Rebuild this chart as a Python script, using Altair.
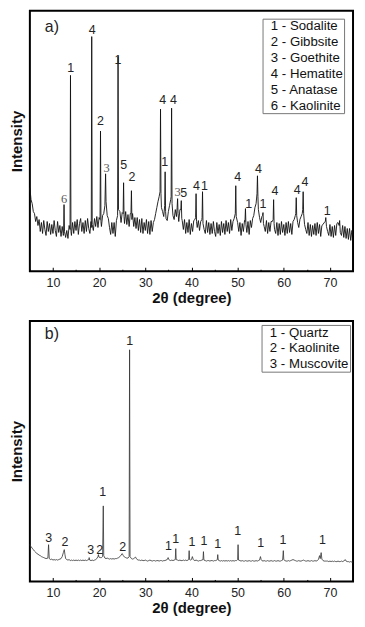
import altair as alt
import pandas as pd

FONT = "Liberation Sans"

# ---------------- shared axis ticks ----------------
major_ticks = [10, 20, 30, 40, 50, 60, 70]
minor_ticks = [5, 15, 25, 35, 45, 55, 65, 75]

# ---------------- panel a) : XRD of red mud ----------------
a_two_theta = [
    5.0, 5.25, 5.5, 5.75,
    6.0, 6.25, 6.5, 6.75,
    7.0, 7.25, 7.5, 7.75,
    8.0, 8.25, 8.5, 8.75,
    9.0, 9.25, 9.5, 9.75,
    10.0, 10.25, 10.5, 10.75,
    11.0, 11.25, 11.5, 11.75,
    12.0, 12.25, 12.3, 12.4, 12.5, 12.75,
    13.0, 13.25, 13.5, 13.7, 13.8, 13.9,
    14.0, 14.25, 14.5, 14.75,
    15.0, 15.25, 15.5, 15.75,
    16.0, 16.25, 16.5, 16.75,
    17.0, 17.25, 17.5, 17.75,
    18.0, 18.25, 18.3, 18.4, 18.5, 18.75,
    19.0, 19.25, 19.5, 19.75,
    20.0, 20.2, 20.3, 20.4, 20.5, 20.75,
    21.0, 21.25, 21.4, 21.5, 21.75,
    22.0, 22.25, 22.5, 22.75,
    23.0, 23.25, 23.5, 23.75,
    24.0, 24.1, 24.2, 24.5, 24.75,
    25.0, 25.2, 25.3, 25.4, 25.5, 25.75,
    26.0, 26.25, 26.5, 26.75, 26.9,
    27.0, 27.1, 27.25, 27.5, 27.75,
    28.0, 28.25, 28.5, 28.75,
    29.0, 29.25, 29.5, 29.75,
    30.0, 30.25, 30.5, 30.75,
    31.0, 31.25, 31.5, 31.75,
    32.0, 32.25, 32.5, 32.75,
    33.0, 33.2, 33.3, 33.4, 33.5, 33.75,
    34.0, 34.2, 34.3, 34.4, 34.5, 34.75,
    35.0, 35.25, 35.5, 35.6, 35.7, 35.8,
    36.0, 36.25, 36.5, 36.75, 36.9,
    37.0, 37.1, 37.25, 37.5, 37.7, 37.8, 37.9,
    38.0, 38.25, 38.5, 38.75,
    39.0, 39.25, 39.5, 39.75,
    40.0, 40.25, 40.5, 40.75, 40.9,
    41.0, 41.1, 41.25, 41.5, 41.75,
    42.0, 42.25, 42.3, 42.4, 42.5, 42.75,
    43.0, 43.25, 43.5, 43.75,
    44.0, 44.25, 44.5, 44.75,
    45.0, 45.25, 45.5, 45.75,
    46.0, 46.25, 46.5, 46.75,
    47.0, 47.25, 47.5, 47.75,
    48.0, 48.25, 48.5, 48.75,
    49.0, 49.25, 49.5, 49.6, 49.7,
    50.0, 50.25, 50.5, 50.75,
    51.0, 51.25, 51.5, 51.6, 51.7, 51.8,
    52.0, 52.25, 52.5, 52.75,
    53.0, 53.25, 53.5, 53.75,
    54.0, 54.2, 54.3, 54.4, 54.5, 54.75,
    55.0, 55.25, 55.4, 55.5, 55.6, 55.75,
    56.0, 56.25, 56.5, 56.75,
    57.0, 57.25, 57.5, 57.7, 57.8, 57.9,
    58.0, 58.25, 58.5, 58.75,
    59.0, 59.25, 59.5, 59.75,
    60.0, 60.25, 60.5, 60.75,
    61.0, 61.25, 61.5, 61.75,
    62.0, 62.25, 62.5, 62.6, 62.7, 62.8,
    63.0, 63.25, 63.5, 63.75,
    64.0, 64.1, 64.2, 64.3, 64.5, 64.75,
    65.0, 65.25, 65.5, 65.75,
    66.0, 66.25, 66.5, 66.75,
    67.0, 67.25, 67.5, 67.75,
    68.0, 68.25, 68.5, 68.75,
    69.0, 69.1, 69.25, 69.5, 69.75,
    70.0, 70.25, 70.5, 70.75,
    71.0, 71.25, 71.5, 71.75,
    72.0, 72.1, 72.25, 72.5, 72.75,
    73.0, 73.25, 73.5, 73.75,
    74.0, 74.25, 74.5, 74.75, 75.0,
]
a_intensity = [
    84, 72, 68, 60,
    58, 50, 55, 46,
    52, 40, 49, 38,
    51, 42, 36, 50,
    40, 48, 37, 47,
    38, 51, 41, 35,
    50, 39, 46, 35,
    45, 36, 38, 67, 40, 34,
    41, 33, 46, 42, 197, 40,
    36, 49, 38, 50,
    41, 52, 37, 48,
    53, 40, 49, 38,
    51, 40, 53, 43,
    38, 50, 44, 236, 47, 41,
    53, 45, 55, 44,
    54, 52, 141, 50, 45, 56,
    58, 66, 98, 70, 56,
    53, 44, 37, 49,
    38, 49, 35, 51,
    56, 216, 62, 60, 49,
    59, 58, 89, 55, 48, 60,
    47, 57, 45, 58, 58,
    81, 52, 58, 45, 54,
    43, 54, 41, 52,
    39, 53, 38, 49,
    41, 52, 38, 50,
    37, 51, 40, 49,
    52, 58, 64, 70,
    75, 80, 163, 78, 64, 60,
    55, 66, 100, 60, 53, 51,
    60, 66, 72, 75, 164, 68,
    56, 52, 62, 55, 64,
    73, 58, 50, 62, 62, 71, 53,
    51, 42, 52, 38,
    49, 39, 52, 37,
    48, 40, 51, 52, 54,
    78, 50, 44, 51, 41,
    50, 52, 54, 80, 48, 42,
    38, 51, 39, 49,
    37, 48, 38, 50,
    40, 35, 49, 38,
    47, 36, 50, 39,
    48, 37, 51, 40,
    49, 38, 52, 41,
    50, 53, 58, 86, 55,
    49, 40, 49, 36,
    48, 40, 51, 50, 63, 47,
    39, 50, 37, 51,
    44, 53, 56, 64,
    68, 78, 96, 75, 62, 54,
    49, 55, 56, 59, 48, 45,
    40, 51, 38, 49,
    40, 50, 50, 52, 72, 48,
    42, 38, 49, 36,
    48, 37, 50, 39,
    47, 36, 49, 38,
    50, 39, 48, 37,
    50, 52, 56, 58, 74, 56,
    49, 44, 52, 55,
    58, 62, 80, 58, 47, 42,
    38, 49, 36, 47,
    35, 46, 37, 48,
    36, 49, 38, 47,
    35, 46, 47, 49,
    50, 54, 45, 40, 36,
    47, 35, 45, 34,
    46, 36, 48, 49,
    46, 51, 39, 36, 46,
    34, 45, 33, 43,
    32, 43, 31, 41, 36,
]

a_label_text = ["1", "4", "2", "1", "5", "2", "4", "1", "4", "5", "4", "1",
                "4", "1", "4", "1", "4", "4", "4", "1"]
a_label_x = [13.85, 18.5, 20.3, 24.1, 25.3, 27.1, 33.8, 34.2, 36.1, 38.3, 41.1, 42.8,
             50.0, 52.4, 54.5, 55.5, 58.1, 62.9, 64.6, 69.4]
a_label_y = [204, 243, 151, 212, 107, 95, 172, 110, 172, 79, 86, 86,
             95, 68, 103, 68, 81, 82, 90, 61]
a_serif_text = ["6", "3", "3"]
a_serif_x = [12.4, 21.6, 37.0]
a_serif_y = [73, 104, 80]
a_legend = ["1 - Sodalite", "2 - Gibbsite", "3 - Goethite",
            "4 - Hematite", "5 - Anatase", "6 - Kaolinite"]

# ---------------- panel b) : XRD of kaolin clay ----------------
b_two_theta = [
    5.0, 5.25, 5.5, 5.75, 6.0, 6.25, 6.5, 6.75, 7.0, 7.25, 7.5, 7.75,
    8.0, 8.25, 8.5, 8.9, 9.05, 9.2, 9.5, 9.75,
    10.0, 10.25, 10.5, 10.75, 11.0, 11.25, 11.5, 11.75,
    12.0, 12.25, 12.45, 12.6, 12.75,
    13.0, 13.25, 13.5, 13.75, 14.0, 14.25, 14.5, 14.75,
    15.0, 15.25, 15.5, 15.75, 16.0, 16.25, 16.5, 16.75,
    17.0, 17.25, 17.5, 17.75, 17.85, 17.95,
    18.25, 18.5, 18.75, 19.0, 19.25, 19.5, 19.75, 19.85, 19.95,
    20.25, 20.5, 20.75, 20.9, 21.0, 21.25, 21.5, 21.75,
    22.0, 22.25, 22.5, 22.75, 23.0, 23.25, 23.5, 23.75,
    24.0, 24.25, 24.5, 24.75, 25.0, 25.25, 25.5, 25.75,
    26.0, 26.25, 26.5, 26.6, 26.7,
    27.0, 27.25, 27.5, 27.75, 27.9, 28.0, 28.25, 28.5, 28.75,
    29.0, 29.25, 29.5, 29.75, 30.0, 30.25, 30.5, 30.75,
    31.0, 31.25, 31.5, 31.75, 32.0, 32.25, 32.5, 32.75,
    33.0, 33.25, 33.5, 33.75, 34.0, 34.25, 34.5, 34.75, 34.95,
    35.1, 35.25, 35.5, 35.75, 36.0, 36.25, 36.5, 36.6, 36.7,
    37.0, 37.25, 37.5, 37.75, 38.0, 38.25, 38.5, 38.75,
    39.0, 39.25, 39.4, 39.5, 39.6, 39.75, 40.0, 40.2, 40.4, 40.5, 40.75,
    41.0, 41.25, 41.5, 41.75, 42.0, 42.25, 42.5, 42.6, 42.7,
    43.0, 43.25, 43.5, 43.75, 44.0, 44.25, 44.5, 44.75,
    45.0, 45.25, 45.5, 45.6, 45.7, 45.8,
    46.0, 46.25, 46.5, 46.75, 47.0, 47.25, 47.5, 47.75,
    48.0, 48.25, 48.5, 48.75, 49.0, 49.25, 49.5, 49.75,
    50.0, 50.1, 50.2, 50.5, 50.75,
    51.0, 51.25, 51.5, 51.75, 52.0, 52.25, 52.5, 52.75,
    53.0, 53.25, 53.5, 53.75, 54.0, 54.25, 54.5, 54.75, 54.95,
    55.1, 55.25, 55.5, 55.75, 56.0, 56.25, 56.5, 56.75,
    57.0, 57.25, 57.5, 57.75, 58.0, 58.25, 58.5, 58.75,
    59.0, 59.25, 59.5, 59.75, 59.9, 60.0, 60.25, 60.5, 60.75,
    61.0, 61.25, 61.5, 61.75, 62.0, 62.25, 62.5, 62.75,
    63.0, 63.25, 63.5, 63.75, 64.0, 64.25, 64.5, 64.75,
    65.0, 65.25, 65.5, 65.75, 66.0, 66.25, 66.5, 66.75,
    67.0, 67.25, 67.5, 67.75, 67.9, 68.1, 68.25, 68.5, 68.75,
    69.0, 69.25, 69.5, 69.75, 70.0, 70.25, 70.5, 70.75,
    71.0, 71.25, 71.5, 71.75, 72.0, 72.25, 72.5, 72.75,
    73.0, 73.3, 73.5, 73.75, 74.0, 74.25, 74.5, 74.75, 75.0,
]
b_intensity = [
    37, 35, 33.5, 32, 30.5, 29.5, 28, 27.5, 26.5, 26, 25, 24.5,
    24, 23.5, 23, 23.5, 37, 23, 22, 22.5,
    21.5, 22, 21.5, 22, 21.5, 22, 22.5, 23,
    25, 29, 32, 27, 23,
    22, 21.5, 22, 21, 21.5, 21, 21.5, 21,
    21.5, 21, 21.5, 21, 21.5, 21, 21.5, 21,
    21.5, 21, 21.5, 22, 24, 21.5,
    21, 21.5, 21, 21.5, 22, 23, 25, 27, 24.5,
    24, 24, 25, 76, 26, 23.5, 23, 23.5,
    23, 22.5, 23, 22.5, 23, 22.5, 23, 23,
    23.5, 24, 25, 26.5, 28, 26, 24.5, 24,
    23.5, 23.5, 25, 233, 25,
    23, 22.5, 23, 24, 24.5, 23.5, 22, 21.5, 21.5,
    21, 21.5, 21, 21, 21.5, 21, 20.5, 21,
    21.5, 21, 20.5, 21, 21, 20.5, 21, 21,
    20.5, 21, 21, 20.5, 21, 21, 21.5, 22, 24,
    22, 21.5, 21, 21.5, 21, 21.5, 22, 33, 22,
    21.5, 21, 21.5, 21, 21, 21.5, 21, 21.5,
    21, 21.5, 22, 31, 22, 21.5, 22, 25, 22, 21.5, 21,
    21.5, 21, 20.5, 21, 21, 21.5, 22, 30, 21.5,
    21, 20.5, 21, 21, 20.5, 21, 21, 20.5,
    21, 21, 21.5, 22, 27, 21.5,
    21, 20.5, 21, 20.5, 21, 20.5, 21, 20.5,
    21, 20.5, 21, 20.5, 21, 20.5, 21, 21,
    22, 37, 21.5, 21, 20.5,
    21, 20.5, 20.5, 21, 20.5, 20.5, 21, 20.5,
    20.5, 21, 20.5, 20.5, 21, 20.5, 21, 21.5, 25,
    22, 21, 20.5, 21, 20.5, 20.5, 21, 20.5,
    20.5, 21, 20.5, 20.5, 21, 20.5, 20.5, 21,
    20.5, 20.5, 21, 21.5, 31, 22, 21, 20.5, 20.5,
    21, 20.5, 21, 21.5, 22, 21.5, 21, 20.5,
    20.5, 21, 20.5, 20.5, 21, 21.5, 21, 20.5,
    20.5, 21, 20.5, 20.5, 21, 20.5, 20.5, 21,
    20.5, 21, 22, 26, 23, 29, 22.5, 21, 20.5,
    20.5, 20.5, 20.5, 20, 20.5, 20, 20.5, 20,
    20.5, 20, 20, 20.5, 20, 20, 20.5, 20,
    20.5, 22, 20.5, 20, 20, 19.5, 20, 19.5, 19.5,
]

b_label_text = ["3", "2", "3", "2", "1", "2", "1", "1", "1", "1", "1", "1",
                "1", "1", "1", "1"]
b_label_x = [9.1, 12.6, 18.2, 20.1, 20.8, 25.1, 26.6, 35.0, 36.6, 40.1, 42.7, 45.7,
             50.0, 55.0, 59.8, 68.4]
b_label_y = [44, 40, 32, 32, 90, 35, 242, 36, 43, 40, 41, 38,
             51, 39, 42, 42]
b_legend = ["1 - Quartz", "2 - Kaolinite", "3 - Muscovite"]

PLOT_W = 325
PLOT_H = 262


def panel(tt, inten, lab_t, lab_x, lab_y, serif, legend_names, tag, tag_y,
          leg_x, leg_y, line_color, line_w):
    xs = alt.Scale(domain=[5, 75], nice=False, zero=False)
    ys = alt.Scale(domain=[0, PLOT_H], nice=False, zero=False)

    line = alt.Chart(pd.DataFrame({"t": tt, "i": inten})).mark_line(
        color=line_color, strokeWidth=line_w, strokeJoin="miter"
    ).encode(
        x=alt.X("t:Q", scale=xs, axis=alt.Axis(
            values=major_ticks, orient="bottom", ticks=False, tickSize=0, domain=False,
            grid=False, labelPadding=5, title="2θ (degree)", titlePadding=2,
            format="d")),
        y=alt.Y("i:Q", scale=ys, axis=alt.Axis(
            labels=False, ticks=False, domain=False, grid=False,
            title="Intensity", titlePadding=5)),
    )

    labels = alt.Chart(pd.DataFrame({"lt": lab_t, "lx": lab_x, "ly": lab_y})).mark_text(
        font=FONT, fontSize=12.5, align="center", baseline="middle", opacity=0.99
    ).encode(
        x=alt.X("lx:Q", scale=xs, axis=alt.Axis(
            values=major_ticks, orient="bottom", offset=-4, tickSize=4, tickWidth=1,
            tickColor="#000", labels=False, domain=False, grid=False, title=None)),
        y=alt.Y("ly:Q", scale=ys, axis=None),
        text="lt:N",
        color=alt.value("#222"),
    )

    minor = alt.Chart(pd.DataFrame({"m": minor_ticks})).mark_point(opacity=0).encode(
        x=alt.X("m:Q", scale=xs, axis=alt.Axis(
            values=minor_ticks, orient="bottom", offset=-2, tickSize=2, tickWidth=1,
            tickColor="#000", labels=False, domain=False, grid=False, title=None)),
    )

    leg = alt.Chart(pd.DataFrame({"name": legend_names})).mark_point(
        opacity=0, size=0
    ).encode(
        color=alt.Color("name:N", scale=alt.Scale(domain=legend_names),
                        legend=alt.Legend(
                            orient="none", legendX=leg_x, legendY=leg_y, title=None,
                            labelFont=FONT, labelFontSize=13.3, labelColor="#111",
                            symbolSize=0, symbolOpacity=0, symbolStrokeWidth=0,
                            labelOffset={"expr": "-6"}, padding=1, rowPadding=2,
                            strokeColor="#777", fillColor="white", labelLimit=200)),
    )

    tag_layer = alt.Chart(pd.DataFrame({"tag": [tag]})).mark_text(
        font=FONT, fontSize=16, align="left", baseline="middle"
    ).encode(text="tag:N", x=alt.value(15), y=alt.value(tag_y), color=alt.value("#222"))

    layers = [line, labels, minor, leg, tag_layer]
    if serif is not None:
        st, sx, sy = serif
        serif_layer = alt.Chart(pd.DataFrame({"st": st, "sx": sx, "sy": sy})).mark_text(
            font="Liberation Serif", fontSize=12.5, align="center", baseline="middle",
            opacity=0.99
        ).encode(
            x=alt.X("sx:Q", scale=xs, axis=None),
            y=alt.Y("sy:Q", scale=ys, axis=None),
            text="st:N",
            color=alt.value("#555"),
        )
        layers.insert(2, serif_layer)

    return alt.layer(*layers).resolve_axis(x="independent", y="independent").properties(
        width=PLOT_W, height=PLOT_H)


panel_a = panel(a_two_theta, a_intensity, a_label_text, a_label_x, a_label_y,
                (a_serif_text, a_serif_x, a_serif_y), a_legend, "a)", 16,
                234, 8, "#111", 0.9)
panel_b = panel(b_two_theta, b_intensity, b_label_text, b_label_x, b_label_y,
                None, b_legend, "b)", 13, 233, 4, "#333", 0.8)

chart = alt.vconcat(panel_a, panel_b, spacing=13).resolve_scale(
    color="independent"
).properties(
    padding={"left": 1, "top": 0, "right": 0, "bottom": 0}
).configure_view(
    stroke="#000", strokeWidth=2
).configure_axis(
    labelFont=FONT, labelFontSize=12.5, labelColor="#222",
    titleFont=FONT, titleFontSize=15, titleFontWeight="bold", titleColor="#111",
)

chart.save("out.html", embed_options={"renderer": "svg", "actions": False})
